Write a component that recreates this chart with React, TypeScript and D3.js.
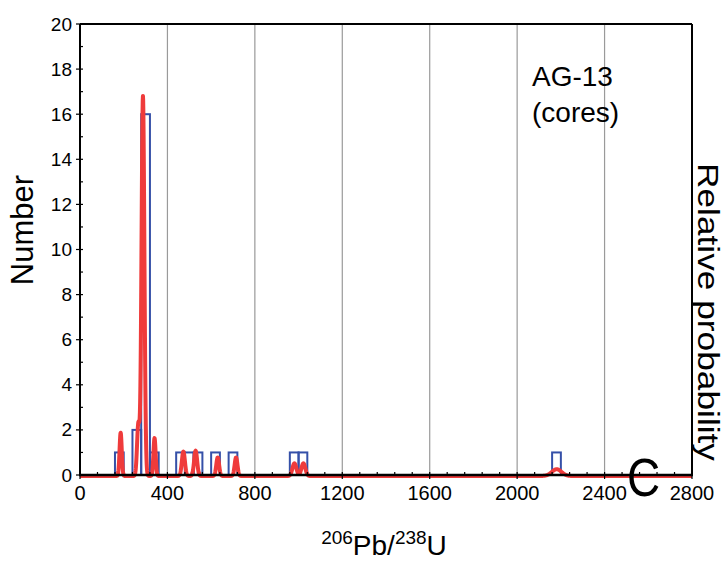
import React from "react";
import * as d3 from "d3";

// Histogram bins (lower edge, Ma) and counts, bin width 40
const binStarts = [160, 240, 280, 320, 440, 480, 520, 600, 680, 960, 1000, 2160];
const binCounts = [1, 2, 16, 1, 1, 1, 1, 1, 1, 1, 1, 1];
const binWidth = 40;

// Probability-density components (age, peak height on count scale, spread)
const probAges = [186, 267, 288, 341, 473, 529, 630, 714, 981, 1022, 2181];
const probHeights = [1.92, 2.3, 16.85, 1.68, 1.08, 1.12, 0.82, 0.82, 0.56, 0.56, 0.3];
const probSpreads = [5, 6, 6.5, 5, 7, 7, 6.5, 6.5, 9, 9, 22];

const xTicks = [0, 400, 800, 1200, 1600, 2000, 2400, 2800];
const yTicks = [0, 2, 4, 6, 8, 10, 12, 14, 16, 18, 20];

const W = 724;
const H = 567;
const L = 80, R = 692, T = 24, B = 475;

export default function App() {
  const x = d3.scaleLinear().domain([0, 2800]).range([L, R]);
  const y = d3.scaleLinear().domain([0, 20]).range([B, T]);

  const pts: [number, number][] = [];
  for (let a = 0; a <= 2800; a += 1) {
    let v = 0;
    probAges.forEach((c, i) => {
      const s = probSpreads[i];
      v += probHeights[i] * Math.exp(-((a - c) * (a - c)) / (2 * s * s));
    });
    pts.push([a, v]);
  }
  const line = d3
    .line<[number, number]>()
    .x((d) => x(d[0]))
    .y((d) => y(d[1]) + 1)
    .curve(d3.curveLinear);

  const minorY = d3.range(1, 20, 2);
  const minorX = d3.range(0, 2801, 80).filter((v) => v % 400 !== 0);
  const font = "'Liberation Sans', Arial, sans-serif";

  return (
    <svg
      width={W}
      height={H}
      style={{ position: "absolute", left: 0, top: 0, background: "#fff" }}
      fontFamily={font}
    >
      <rect x={0} y={0} width={W} height={H} fill="#fff" />
      {/* grid lines */}
      {xTicks
        .filter((t) => t > 0 && t < 2800)
        .map((t) => (
          <line key={"g" + t} x1={x(t)} x2={x(t)} y1={T} y2={B} stroke="#9a9a9a" strokeWidth={1.2} />
        ))}
      {/* histogram bars */}
      {binStarts.map((s, i) => (
        <rect
          key={"b" + i}
          x={x(s)}
          y={y(binCounts[i])}
          width={x(s + binWidth) - x(s)}
          height={y(0) - y(binCounts[i])}
          fill="none"
          stroke="#3550a8"
          strokeWidth={2}
        />
      ))}
      {/* probability curve */}
      <path d={line(pts) || ""} fill="none" stroke="#ef3b3b" strokeWidth={4} strokeLinejoin="round" />
      {/* frame */}
      <line x1={L} x2={R} y1={T} y2={T} stroke="#000" strokeWidth={2} />
      <line x1={R} x2={R} y1={T} y2={B} stroke="#000" strokeWidth={2} />
      <line x1={L} x2={L} y1={T} y2={B} stroke="#000" strokeWidth={2} />
      <line x1={L - 1} x2={R + 1} y1={B} y2={B} stroke="#000" strokeWidth={2.5} />
      {/* y ticks */}
      {yTicks.map((t) => (
        <g key={"yt" + t}>
          <line x1={L - 4} x2={L + 3} y1={y(t)} y2={y(t)} stroke="#000" strokeWidth={1.2} />
          <text x={L - 8} y={y(t)} textAnchor="end" dominantBaseline="central" fontSize={19}>
            {t}
          </text>
        </g>
      ))}
      {minorY.map((t) => (
        <line key={"ym" + t} x1={L} x2={L + 3} y1={y(t)} y2={y(t)} stroke="#000" strokeWidth={1.2} />
      ))}
      {/* x ticks */}
      {xTicks.map((t) => (
        <g key={"xt" + t}>
          <line x1={x(t)} x2={x(t)} y1={B - 3} y2={B + 4} stroke="#000" strokeWidth={1.2} />
          <text x={x(t)} y={500} textAnchor="middle" fontSize={20}>
            {t}
          </text>
        </g>
      ))}
      {minorX.map((t) => (
        <line key={"xm" + t} x1={x(t)} x2={x(t)} y1={B - 3} y2={B} stroke="#000" strokeWidth={1.2} />
      ))}
      {/* axis titles */}
      <text transform="translate(33,230) rotate(-90)" textAnchor="middle" fontSize={31}>
        Number
      </text>
      <text
        transform="translate(698,312) rotate(90)"
        textAnchor="middle"
        fontSize={30}
        textLength={298}
        lengthAdjust="spacingAndGlyphs"
      >
        Relative probability
      </text>
      <text x={384} y={555} textAnchor="middle" fontSize={28}>
        <tspan fontSize={19} dy={-11}>206</tspan>
        <tspan dy={11}>Pb/</tspan>
        <tspan fontSize={19} dy={-11}>238</tspan>
        <tspan dy={11}>U</tspan>
      </text>
      {/* annotations */}
      <text x={532} y={86} fontSize={28}>AG-13</text>
      <text x={532} y={122} fontSize={28}>(cores)</text>
      <text x={627} y={496} fontSize={54} transform="translate(627,0) scale(0.85,1) translate(-627,0)">
        C
      </text>
    </svg>
  );
}
